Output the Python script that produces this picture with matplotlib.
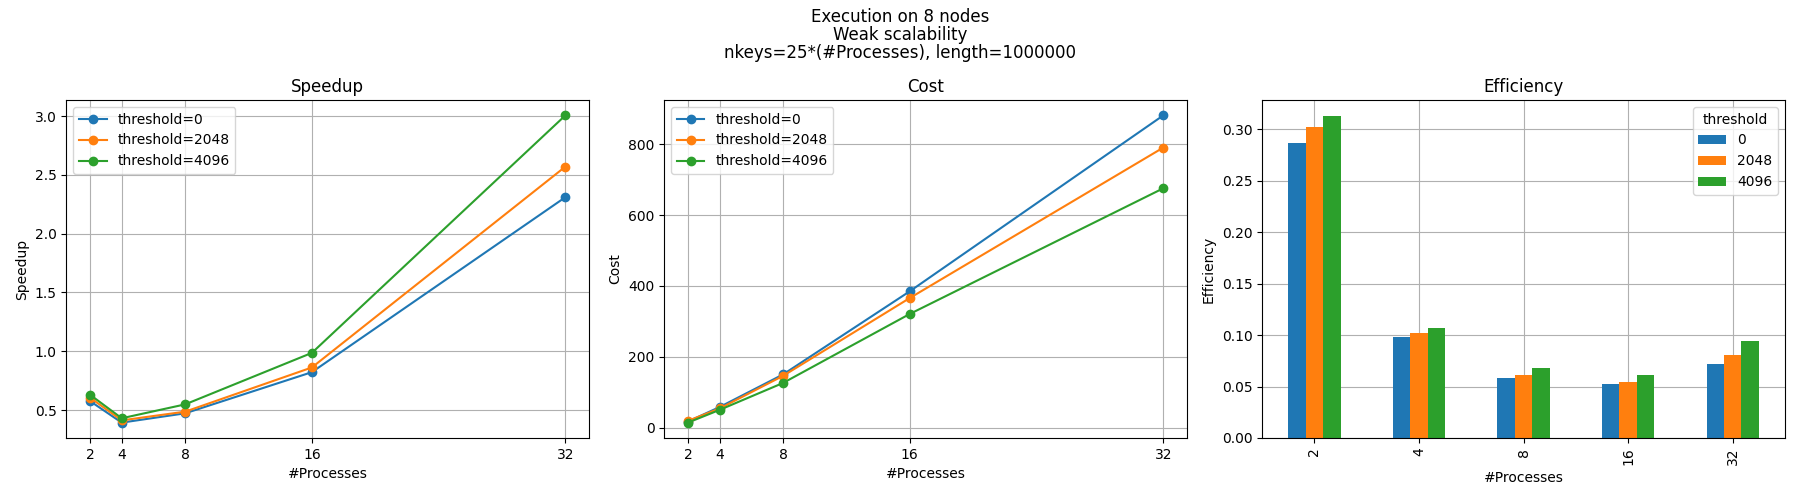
import matplotlib
matplotlib.use("Agg")
import matplotlib.pyplot as plt
import numpy as np

# data
procs = [2, 4, 8, 16, 32]
thresholds = [0, 2048, 4096]

speedup_0 = [0.576, 0.393, 0.472, 0.822, 2.31]
speedup_2048 = [0.605, 0.412, 0.486, 0.862, 2.57]
speedup_4096 = [0.630, 0.430, 0.548, 0.986, 3.006]

cost_0 = [17, 58, 150, 385, 882]
cost_2048 = [19, 54, 146, 366, 791]
cost_4096 = [14, 50, 126, 321, 676]

eff_0 = [0.287, 0.098, 0.058, 0.052, 0.072]
eff_2048 = [0.302, 0.102, 0.061, 0.054, 0.081]
eff_4096 = [0.313, 0.107, 0.068, 0.061, 0.094]

speedups = [speedup_0, speedup_2048, speedup_4096]
costs = [cost_0, cost_2048, cost_4096]
effs = [eff_0, eff_2048, eff_4096]

fig, axs = plt.subplots(1, 3, figsize=(18, 5), dpi=100)
fig.suptitle("Execution on 8 nodes\nWeak scalability\nnkeys=25*(#Processes), length=1000000",
             y=0.985, linespacing=1.03)

# Speedup
ax = axs[0]
for t, s in zip(thresholds, speedups):
    ax.plot(procs, s, marker="o", label="threshold={}".format(t))
ax.set_xticks(procs)
ax.set_title("Speedup")
ax.set_xlabel("#Processes")
ax.set_ylabel("Speedup")
ax.grid()
ax.legend(loc="upper left")

# Cost
ax = axs[1]
for t, c in zip(thresholds, costs):
    ax.plot(procs, c, marker="o", label="threshold={}".format(t))
ax.set_xticks(procs)
ax.set_title("Cost")
ax.set_xlabel("#Processes")
ax.set_ylabel("Cost")
ax.grid()
ax.legend(loc="upper left")

# Efficiency (grouped bars like pandas' df.plot.bar)
ax = axs[2]
x = np.arange(len(procs))
w = 0.5 / len(thresholds)
for i, (t, e) in enumerate(zip(thresholds, effs)):
    ax.bar(x + (i - 1) * w, e, width=w, label=str(t))
ax.set_xticks(x)
ax.set_xticklabels([str(p) for p in procs], rotation=90)
ax.set_xlim(-0.5, len(procs) - 0.5)
ax.set_title("Efficiency")
ax.set_xlabel("#Processes")
ax.set_ylabel("Efficiency")
ax.grid()
ax.set_axisbelow(True)
ax.legend(title="threshold", loc="upper right")

plt.tight_layout()
plt.subplots_adjust(top=0.80)
plt.savefig("out.png")
